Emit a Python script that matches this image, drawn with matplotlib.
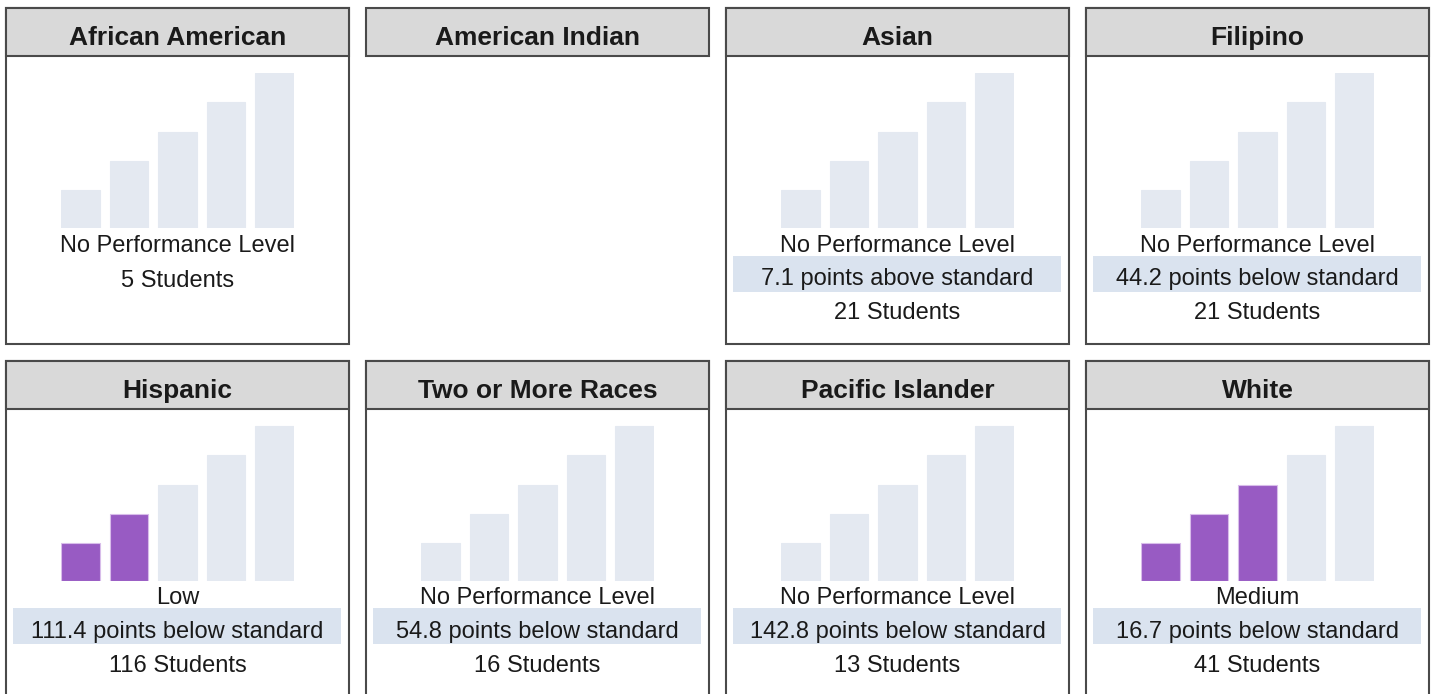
import matplotlib
matplotlib.use('Agg')
import matplotlib.pyplot as plt
from matplotlib.patches import Rectangle
from matplotlib.transforms import Affine2D

# ---------------- data ----------------
groups = ["African American", "American Indian", "Asian", "Filipino",
          "Hispanic", "Two or More Races", "Pacific Islander", "White"]
has_data = [True, False, True, True, True, True, True, True]
levels = ["No Performance Level", None, "No Performance Level", "No Performance Level",
          "Low", "No Performance Level", "No Performance Level", "Medium"]
filled_bars = [0, 0, 0, 0, 2, 0, 0, 3]
distance = [None, None, 7.1, -44.2, -111.4, -54.8, -142.8, -16.7]
students = [5, None, 21, 21, 116, 16, 13, 41]
bar_levels = [1, 2, 3, 4, 5]
bar_heights = [38, 67, 96, 126, 155]

# ---------------- style ----------------
W, H = 1433, 694
HEADER_FILL = '#d9d9d9'
BORDER = '#4a4a4a'
LIGHT_BAR = '#e4e9f1'
PURPLE = '#985bc3'
PURPLE_EDGE = '#d8bdea'
HIGHLIGHT = '#dae3ef'
TXT = '#1a1a1a'
FONT = 'Liberation Sans'

fig = plt.figure(figsize=(W / 100, H / 100), dpi=100)
fig.patch.set_facecolor('white')
px = Affine2D().scale(1 / W, -1 / H).translate(0, 1) + fig.transFigure

panel_lefts = [6, 366, 726, 1086]
row_tops = [8, 361]
PW = 343
HDR = 48


def box_rect(x0, y0, x1, y1, **kw):
    fig.add_artist(Rectangle((x0, y0), x1 - x0, y1 - y0, transform=px, **kw))


for i, name in enumerate(groups):
    r, c = divmod(i, 4)
    pl = panel_lefts[c]
    top = row_tops[r]
    bottom = 344 if r == 0 else 710

    if has_data[i]:
        box_rect(pl, top, pl + PW, bottom, facecolor='white', edgecolor=BORDER,
                 linewidth=1.5, clip_on=False, zorder=0.5)
    box_rect(pl, top, pl + PW, top + HDR, facecolor=HEADER_FILL, edgecolor=BORDER,
             linewidth=1.5, zorder=1)
    fig.text(pl + PW / 2, top + 37, name, transform=px, ha='center',
             va='baseline', fontsize=19, fontweight='bold', family=FONT, color=TXT,
             zorder=3)

    if not has_data[i]:
        continue

    # bars
    bar_bottom = top + 219.5
    ax_l = (pl + 55) / W
    ax_b = 1 - bar_bottom / H
    ax = fig.add_axes([ax_l, ax_b, 233 / W, 155 / H])
    ax.set_zorder(2)
    ax.patch.set_alpha(0)
    ax.set_xlim(0.6, 5.4)
    ax.set_ylim(0, max(bar_heights))
    ax.axis('off')
    colors = [PURPLE if k < filled_bars[i] else LIGHT_BAR for k in range(len(bar_levels))]
    edges = [PURPLE_EDGE if k < filled_bars[i] else LIGHT_BAR for k in range(len(bar_levels))]
    ax.bar(bar_levels, bar_heights, width=0.8, color=colors, edgecolor=edges,
           linewidth=0.8)

    # texts
    cx = pl + PW / 2
    fig.text(cx, top + 243.5, levels[i], transform=px, ha='center', va='baseline',
             fontsize=17, family=FONT, color=TXT, zorder=3)
    if distance[i] is not None:
        d = distance[i]
        label = f"{abs(d):.1f} points {'above' if d >= 0 else 'below'} standard"
        box_rect(pl + 7, top + 247.5, pl + 335, top + 283.5, facecolor=HIGHLIGHT,
                 edgecolor='none', zorder=1)
        fig.text(cx, top + 277, label, transform=px, ha='center', va='baseline',
                 fontsize=17, family=FONT, color=TXT, zorder=3)
        sy = top + 311.5
    else:
        sy = top + 279
    fig.text(cx, sy, f"{students[i]} Students", transform=px, ha='center',
             va='baseline', fontsize=17, family=FONT, color=TXT, zorder=3)

fig.savefig('out.png', dpi=100)
